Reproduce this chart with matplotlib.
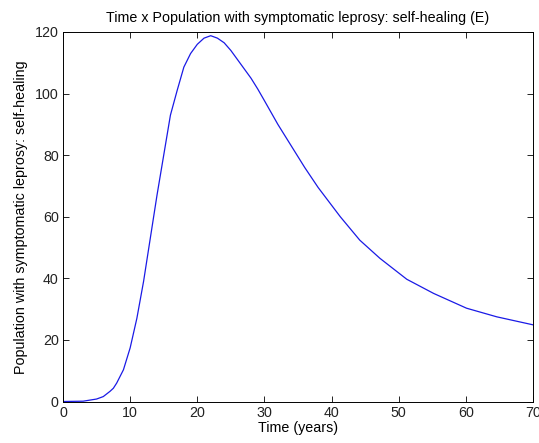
import matplotlib
matplotlib.use("Agg")
import matplotlib.pyplot as plt

plt.rcParams['font.family'] = ['Liberation Sans', 'DejaVu Sans']

time_years = [0, 3, 5, 6, 7, 7.5, 8, 9, 10, 11, 12, 13, 14, 15, 16, 17, 18, 19,
              20, 21, 22, 23, 24, 25, 26, 27, 28, 29, 30, 32, 34, 36, 38, 41.3, 44.2, 47.2,
              51.2, 55.2, 60.1, 64.6, 70]
population_E = [0, 0.1, 0.8, 1.6, 3.3, 4.3, 6, 10.3, 17.4, 27, 39, 53, 67, 80, 93, 101,
                108.6, 113, 116, 118, 118.8, 118, 116.5, 114, 111, 108, 105, 101.5, 97.7, 90, 83,
                76, 69.5, 60.0, 52.4, 46.5, 39.7, 35.1, 30.3, 27.5, 24.9]

x_ticks = [0, 10, 20, 30, 40, 50, 60, 70]
y_ticks = [0, 20, 40, 60, 80, 100, 120]

fig = plt.figure(figsize=(5.39, 4.43), dpi=100)
ax = fig.add_axes([63/539, 1 - 401.5/443, 470/539, 369.5/443])
ax.plot(time_years, population_E, color='#1a1ae6', linewidth=0.9)
ax.set_xlim(0, 70)
ax.set_ylim(0, 120)
ax.set_xticks(x_ticks)
ax.set_yticks(y_ticks)
ax.tick_params(direction='in', top=True, right=True, length=4, width=0.6, labelsize=10.3, pad=3,
               labelcolor='#222222')
for s in ax.spines.values():
    s.set_linewidth(0.7)
ax.set_title('Time x Population with symptomatic leprosy: self-healing (E)', fontsize=10.3, pad=7)
ax.set_xlabel('Time (years)', fontsize=10.3, labelpad=1)
ax.set_ylabel('Population with symptomatic leprosy: self-healing', fontsize=10.3, labelpad=5)
fig.savefig('out.png', dpi=100)
